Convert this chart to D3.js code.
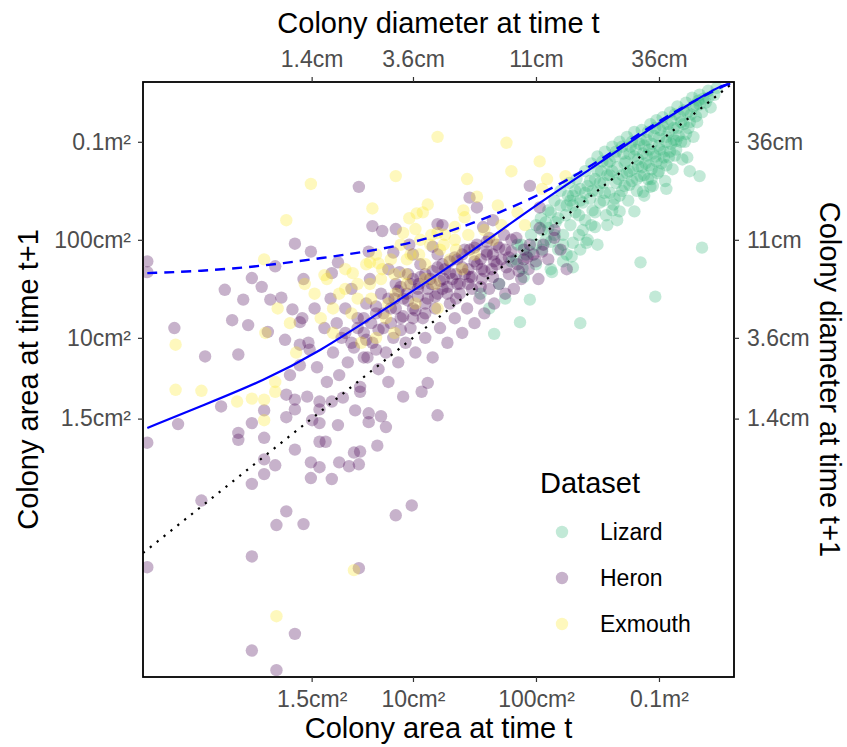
<!DOCTYPE html>
<html>
<head>
<meta charset="utf-8">
<script src="https://cdn.jsdelivr.net/npm/d3@7"></script>
<style>
  body { margin: 0; background: #fff; }
  text { font-family: "Liberation Sans", Arial, sans-serif; }
</style>
</head>
<body>
<script>
// values are log10(area in cm²): [time t, time t+1]
const lizard = [
  [3.35,1.92],[2.85,1.77],[3.23,2.84],[3.33,2.65],[3.06,2.52],[3.14,3.01],[2.93,2.54],[2.87,2.49],
  [2.80,2.29],[2.68,2.29],[2.48,2.13],[2.50,1.95],[2.36,1.90],[2.29,1.83],[2.30,1.72],[2.22,1.78],
  [2.13,1.67],[1.89,1.71],[2.41,1.97],[2.30,1.97],[2.97,1.42],[2.36,1.15],[1.66,1.04],[1.87,1.16],
  [1.95,1.39],[3.33,3.38],[1.55,1.45],[1.70,1.55],[1.75,1.40],[1.62,1.30],
  [2.05,2.10],[2.10,2.30],[2.12,1.98],[2.15,2.40],[2.18,2.22],[2.20,2.50],[2.22,2.05],[2.25,2.35],
  [2.27,2.58],[2.28,2.15],[2.30,2.45],[2.32,2.28],[2.33,2.62],[2.35,2.05],[2.36,2.52],[2.38,2.38],
  [2.40,2.70],[2.40,2.20],[2.42,2.55],[2.44,2.42],[2.45,2.78],[2.46,2.30],[2.48,2.62],[2.50,2.50],
  [2.50,2.85],[2.52,2.38],[2.53,2.70],[2.55,2.58],[2.56,2.90],[2.57,2.25],[2.58,2.78],[2.60,2.48],
  [2.60,2.66],[2.62,2.95],[2.63,2.36],[2.64,2.85],[2.65,2.58],[2.66,2.74],[2.68,3.00],[2.68,2.45],
  [2.70,2.66],[2.71,2.88],[2.72,2.55],[2.73,2.80],[2.74,3.05],[2.75,2.40],[2.76,2.70],[2.77,2.95],
  [2.78,2.60],[2.80,2.85],[2.80,3.10],[2.82,2.50],[2.83,2.75],[2.84,2.98],[2.85,2.65],[2.86,3.12],
  [2.87,2.88],[2.88,2.45],[2.89,2.78],[2.90,3.02],[2.91,2.62],[2.92,2.92],[2.93,3.18],[2.94,2.72],
  [2.95,2.55],[2.96,3.06],[2.97,2.85],[2.98,3.22],[2.99,2.68],[3.00,2.96],[3.01,3.12],[3.02,2.78],
  [3.03,3.25],[3.04,2.90],[3.05,2.60],[3.06,3.05],[3.07,3.18],[3.08,2.84],[3.09,3.30],[3.10,2.98],
  [3.11,2.72],[3.12,3.14],[3.13,3.28],[3.14,2.92],[3.15,3.36],[3.16,3.06],[3.18,3.20],[3.19,2.82],
  [3.20,3.32],[3.21,3.00],[3.22,3.40],[3.24,3.14],[3.25,2.70],[3.26,3.28],[3.27,3.45],[3.28,3.05],
  [3.30,3.38],[3.31,3.20],[3.33,3.48],[3.35,3.30],[3.38,3.40],[3.40,3.52],[3.42,3.35],[3.45,3.48],
  [3.47,3.55],[1.80,1.78],[1.85,1.95],[1.90,1.62],[1.95,1.88],[2.00,2.15],[2.00,1.75],[2.05,1.90],
  [2.08,2.18],[2.12,1.70],[2.15,2.05],[2.18,1.90],[2.22,1.95],[2.25,1.85],[2.28,2.40],[2.35,2.25],
  [2.38,2.10],[2.42,2.00],[2.45,2.15],[2.48,2.28],[2.55,2.40],[2.58,2.15],[2.62,2.30],[2.66,2.20],
  [2.60,2.80],[2.62,2.70],[2.65,2.90],[2.67,2.62],[2.70,2.95],[2.72,2.78],[2.74,2.68],[2.76,2.88],
  [2.78,3.00],[2.79,2.72],[2.81,2.92],[2.83,2.82],[2.85,3.02],[2.86,2.74],[2.88,2.96],[2.90,2.86],
  [2.91,3.10],[2.92,2.76],[2.94,2.98],[2.95,2.88],[2.97,3.14],[2.98,2.80],[3.00,3.04],[3.01,2.92],
  [3.03,3.16],[3.04,2.84],[3.06,3.00],[3.08,3.10],[3.09,2.90],[3.10,3.22],[3.12,3.02],[3.13,2.86],
  [3.15,3.14],[3.17,3.26],[3.18,3.00],[3.20,3.18],[3.22,3.08],[3.23,3.30],[3.25,3.20],[3.28,3.36],
  [3.30,3.26],[3.32,3.42],[3.36,3.44],[3.40,3.45],[2.50,2.70],[2.52,2.58],[2.54,2.80],[2.56,2.48],
  [2.58,2.66],[2.44,2.60],[2.46,2.50],[2.40,2.48],[2.36,2.40],[2.32,2.50],[2.30,2.35],[2.26,2.45],
  [2.24,2.25],[2.20,2.35],[2.16,2.18],[2.12,2.28],[2.10,2.12],[2.08,2.00],[2.04,2.22],[2.00,1.95],
  [1.96,2.05],[1.92,1.85],[1.88,1.95],[1.84,1.80],[2.70,2.50],[2.76,2.56],[2.82,2.62],[2.88,2.66],
  [2.94,2.62],[3.00,2.70],[3.06,2.76],[2.64,2.42]
];

const heron = [
  [-1.16,1.78],[-1.16,1.67],[-1.16,-0.07],[-1.16,-1.34],[-0.91,0.12],[-0.94,1.10],[-0.69,0.81],[-0.72,-0.66],
  [-0.56,0.30],[-0.42,0.83],[-0.42,0.03],[-0.42,-0.04],[-0.31,0.13],[-0.31,-0.49],[-0.31,-1.23],[-0.31,-2.19],
  [-0.31,1.61],[-0.21,0.26],[-0.21,-0.02],[-0.21,-0.24],[-0.21,-0.39],[-0.12,1.73],[-0.12,-0.30],[-0.11,-0.91],
  [-0.11,-2.39],[-0.03,0.42],[-0.03,0.19],[-0.03,-0.77],[0.04,1.96],[0.04,0.37],[0.04,0.27],[0.04,-0.14],
  [0.04,-2.02],[0.11,1.60],[0.11,-0.90],[0.14,0.40],[0.17,1.88],[0.17,-0.27],[0.17,-0.43],[0.18,0.16],
  [0.24,0.27],[0.24,-0.06],[0.24,-0.32],[0.24,0.35],[0.24,0.13],[0.29,-0.06],[0.34,1.66],[0.34,0.35],
  [0.34,-0.44],[0.39,1.77],[0.39,0.11],[0.40,-0.27],[0.43,0.39],[0.48,-0.31],[0.52,-0.17],[0.53,0.26],
  [0.56,2.54],[0.56,-0.29],[0.56,-1.35],[0.57,0.45],[0.57,-0.16],[0.64,1.88],[0.64,0.23],[0.64,0.14],
  [0.67,2.14],[0.71,-0.10],[0.74,0.20],[0.75,2.09],[0.78,0.09],[0.80,0.55],[0.84,1.87],[0.86,2.11],
  [0.86,-0.81],[0.89,1.67],[0.92,0.40],[0.97,1.95],[0.99,-0.71],[1.00,1.85],[1.07,0.45],[1.12,0.54],
  [1.16,1.93],[1.20,2.16],[1.20,0.21],[1.24,2.15],[1.46,2.43],[1.52,2.33],[1.57,2.13],[1.65,2.20],
  [1.95,2.55],[2.03,2.33],[2.03,2.12],[2.15,2.02],[1.93,1.82],
  [-0.38,1.39],[-0.23,1.52],[-0.16,1.39],[-0.07,1.41],[0.02,1.29],[0.08,1.16],[-0.34,1.13],[-0.18,1.06],
  [-0.04,0.98],[0.08,0.93],[-0.47,1.18],[-0.53,1.49],[0.00,0.62],[0.16,0.88],[0.08,0.72],
  [0.10,1.20],[0.15,0.95],[0.20,1.30],[0.22,0.70],[0.28,1.10],[0.30,0.55],[0.33,1.40],[0.35,0.85],
  [0.38,1.15],[0.40,0.62],[0.42,1.00],[0.45,1.30],[0.47,0.75],[0.50,1.50],[0.52,0.90],[0.55,1.20],
  [0.57,0.50],[0.60,1.05],[0.62,1.35],[0.63,0.80],[0.65,1.60],[0.67,0.95],[0.70,1.25],[0.72,0.68],
  [0.74,1.45],[0.76,1.10],[0.78,0.85],[0.80,1.70],[0.82,1.30],[0.84,1.00],[0.86,1.55],[0.88,0.75],
  [0.90,1.20],[0.92,1.40],[0.94,0.95],[0.96,1.65],[0.98,1.10],[1.00,1.30],[1.02,0.85],[1.04,1.50],
  [1.06,1.75],[1.08,1.20],[1.10,1.00],[1.12,1.40],[1.14,1.60],[1.16,0.80],[1.18,1.30],[1.20,1.85],
  [1.22,1.10],[1.24,1.50],[1.26,1.70],[1.28,0.95],[1.30,1.35],[1.32,1.60],[1.34,1.20],[1.36,1.80],
  [1.38,1.45],[1.40,1.05],[1.42,1.65],[1.44,1.30],[1.46,1.90],[1.48,1.50],[1.50,1.15],[1.52,1.75],
  [1.54,1.40],[1.56,1.60],[1.58,1.25],[1.60,1.85],[1.62,1.50],[1.64,1.70],[1.66,1.35],[1.68,1.95],
  [1.70,1.55],[1.72,1.80],[1.75,1.45],[1.78,1.65],[1.80,2.00],[1.82,1.50],[1.85,1.75],[1.88,1.60],
  [1.90,1.90],[1.94,1.70],[1.98,1.85],[2.02,1.60],[2.06,1.95],[2.10,1.80],[2.15,2.10],[2.20,1.90],
  [2.25,1.70],[0.85,1.40],[0.95,1.45],[1.05,1.55],[1.15,1.55],[1.25,1.60],[1.35,1.65],[1.45,1.70],
  [1.55,1.80],[1.65,1.85],[1.75,1.90],[1.10,1.65],[1.20,1.72],[1.30,1.78],[1.40,1.85],[1.50,1.92],
  [1.60,1.98],[1.00,1.60],[0.90,1.52],[1.28,1.45],[1.38,1.55],[1.48,1.62],[1.58,1.68],[1.68,1.75],
  [1.78,1.82],
  [0.45,1.05],[0.50,0.95],[0.55,1.10],[0.60,1.20],[0.62,0.98],[0.66,1.15],[0.70,1.32],[0.72,1.08],
  [0.76,1.25],[0.80,1.40],[0.82,1.15],[0.86,1.30],[0.88,1.48],[0.92,1.22],[0.96,1.38],[0.98,1.55],
  [1.02,1.28],[1.04,1.42],[1.06,1.62],[1.10,1.35],[1.12,1.50],[1.16,1.68],[1.18,1.42],[1.22,1.58],
  [1.24,1.75],[1.28,1.52],[1.30,1.66],[1.34,1.82],[1.36,1.55],[1.40,1.72],[1.42,1.90],[1.46,1.62],
  [1.50,1.78],[1.52,1.95],[1.56,1.70],[1.60,1.88],[1.62,2.02],[1.66,1.78],[1.70,1.92],[1.74,2.05],
  [1.76,1.72],[1.80,1.88],[1.84,2.02],[1.86,1.68],[1.90,1.80],[1.95,1.95],[2.00,1.78],[2.05,1.88],
  [1.20,1.45],[1.35,1.40],[1.45,1.55],[1.55,1.52],[1.65,1.62],[1.00,1.20],[0.90,1.08],[1.10,1.25],
  [0.70,0.88],[0.60,0.80]
];

const exmouth = [
  [-0.93,0.93],[-0.93,0.47],[-0.72,0.46],[-0.43,0.35],[-0.31,0.38],[-0.21,1.80],[-0.21,0.37],[-0.21,0.16],
  [-0.12,0.55],[-0.12,0.45],[-0.11,-1.84],[-0.03,2.20],[0.17,2.57],[0.28,1.64],[0.51,1.66],[0.52,-1.37],
  [0.65,1.77],[0.67,2.32],[0.72,1.76],[0.86,2.65],[0.92,2.07],[0.97,2.22],[1.02,2.11],[1.03,2.27],
  [1.08,2.28],[1.12,2.36],[1.20,2.07],[1.20,3.05],[1.34,2.13],[1.41,2.30],[1.42,2.23],[1.44,2.62],
  [1.52,2.44],[1.69,2.35],[1.76,2.99],[1.80,2.70],[1.85,2.28],[1.91,2.15],[2.03,2.80],[2.05,2.52],
  [2.09,2.62],[2.24,2.65],
  [0.20,1.45],[0.25,1.20],[0.30,1.60],[0.35,1.05],[0.40,1.45],[0.45,1.70],[0.50,1.25],[0.55,1.55],
  [0.58,0.95],[0.62,1.75],[0.66,1.40],[0.70,1.85],[0.74,1.60],[0.78,1.20],[0.82,1.80],[0.86,1.45],
  [0.90,1.95],[0.94,1.65],[0.98,1.85],[1.02,1.35],[1.06,2.00],[1.10,1.75],[1.14,1.95],[1.18,1.55],
  [1.22,1.90],[1.26,2.05],[1.30,1.80],[1.34,2.00],[1.40,1.70],[1.45,2.05],[1.50,1.85],[1.58,2.10],
  [1.65,2.00],[1.72,2.15],[0.00,1.15],[-0.10,1.30],[-0.20,1.05],[0.05,0.85],[0.12,1.55],[0.85,1.05],
  [0.70,1.00],[1.20,1.30],
  [0.55,1.40],[0.65,1.55],[0.75,1.70],[0.85,1.65],[0.95,1.80],[1.05,1.85],[1.15,2.05],[1.25,1.95],
  [1.35,1.90],[0.45,1.50],[0.35,1.30],[0.95,1.55],[1.10,1.60],[0.80,1.35]
];

// fitted curves, same units
const solidFit = [
  [-1.16,0.08],[-0.69,0.32],[-0.22,0.56],[0.24,0.86],[0.73,1.26],[1.22,1.66],[1.63,2.02],
  [2.03,2.38],[2.44,2.72],[2.85,3.07],[3.25,3.39],[3.51,3.58],[3.58,3.59]
];
const dashedFit = [
  [-1.16,1.66],[-0.73,1.68],[-0.24,1.73],[0.24,1.81],[0.73,1.90],[1.06,1.99],[1.38,2.12],
  [1.71,2.28],[2.03,2.46],[2.36,2.68],[2.68,2.95],[3.01,3.22],[3.33,3.45],[3.58,3.60]
];

const areaTicks = [1.5, 10, 100, 1000]; // cm²
const areaTickLabels = ["1.5cm²", "10cm²", "100cm²", "0.1m²"];
const diameterTickLabels = ["1.4cm", "3.6cm", "11cm", "36cm"];

const datasets = ["Lizard", "Heron", "Exmouth"];
const datasetColors = ["#35b779", "#440154", "#fde725"];

var width = 847, height = 747;
var panelLeft = 143, panelRight = 734, panelTop = 82, panelBottom = 677;

var svg = d3.select("body").append("svg")
  .attr("width", width)
  .attr("height", height);

var x = d3.scaleLinear().domain([-1.195, 3.61]).range([panelLeft, panelRight]);
var y = d3.scaleLinear().domain([-2.46, 3.61]).range([panelBottom, panelTop]);

svg.append("clipPath").attr("id", "panel")
  .append("rect")
  .attr("x", panelLeft).attr("y", panelTop)
  .attr("width", panelRight - panelLeft).attr("height", panelBottom - panelTop);

var plot = svg.append("g").attr("clip-path", "url(#panel)");

// points
var series = [lizard, heron, exmouth];
series.forEach(function(pts, i) {
  plot.append("g")
    .selectAll("circle")
    .data(pts)
    .enter().append("circle")
    .attr("cx", d => x(d[0]))
    .attr("cy", d => y(d[1]))
    .attr("r", 6.2)
    .attr("fill", datasetColors[i])
    .attr("fill-opacity", 0.3);
});

var line = d3.line().x(d => x(d[0])).y(d => y(d[1])).curve(d3.curveBasis);

// 1:1 line
plot.append("path")
  .datum(x.domain().map(v => [v, v]))
  .attr("d", d3.line().x(d => x(d[0])).y(d => y(d[1])))
  .attr("fill", "none")
  .attr("stroke", "#000")
  .attr("stroke-width", 2.2)
  .attr("stroke-dasharray", "2.2,6.6");

plot.append("path")
  .datum(dashedFit)
  .attr("d", line)
  .attr("fill", "none")
  .attr("stroke", "#0000ff")
  .attr("stroke-width", 2.4)
  .attr("stroke-dasharray", "10,7");

plot.append("path")
  .datum(solidFit)
  .attr("d", line)
  .attr("fill", "none")
  .attr("stroke", "#0000ff")
  .attr("stroke-width", 2.2);

// border
svg.append("rect")
  .attr("x", panelLeft).attr("y", panelTop)
  .attr("width", panelRight - panelLeft).attr("height", panelBottom - panelTop)
  .attr("fill", "none")
  .attr("stroke", "#000")
  .attr("stroke-width", 1.8);

// axes
var tickPos = areaTicks.map(Math.log10);
function styleAxis(g) {
  g.select(".domain").remove();
  g.selectAll(".tick line").attr("stroke", "#333").attr("stroke-width", 1.2);
  g.selectAll(".tick text").attr("fill", "#4d4d4d").style("font-size", "23px")
    .style("font-family", "'Liberation Sans', Arial, sans-serif");
}

svg.append("g")
  .attr("transform", "translate(0," + panelBottom + ")")
  .call(d3.axisBottom(x).tickValues(tickPos).tickSize(5).tickPadding(9)
    .tickFormat((d, i) => areaTickLabels[i]))
  .call(styleAxis);

svg.append("g")
  .attr("transform", "translate(0," + panelTop + ")")
  .call(d3.axisTop(x).tickValues(tickPos).tickSize(5).tickPadding(10)
    .tickFormat((d, i) => diameterTickLabels[i]))
  .call(styleAxis);

svg.append("g")
  .attr("transform", "translate(" + panelLeft + ",0)")
  .call(d3.axisLeft(y).tickValues(tickPos).tickSize(5).tickPadding(7)
    .tickFormat((d, i) => areaTickLabels[i]))
  .call(styleAxis);

svg.append("g")
  .attr("transform", "translate(" + panelRight + ",0)")
  .call(d3.axisRight(y).tickValues(tickPos).tickSize(5).tickPadding(8)
    .tickFormat((d, i) => diameterTickLabels[i]))
  .call(styleAxis);

// axis titles
var cx = (panelLeft + panelRight) / 2, cy = (panelTop + panelBottom) / 2;
svg.append("text").attr("x", cx).attr("y", 738)
  .attr("text-anchor", "middle").style("font-size", "29px")
  .text("Colony area at time t");
svg.append("text").attr("x", cx).attr("y", 33)
  .attr("text-anchor", "middle").style("font-size", "29px")
  .text("Colony diameter at time t");
svg.append("text")
  .attr("transform", "translate(38," + cy + ") rotate(-90)")
  .attr("text-anchor", "middle").style("font-size", "29px")
  .text("Colony area at time t+1");
svg.append("text")
  .attr("transform", "translate(820," + cy + ") rotate(90)")
  .attr("text-anchor", "middle").style("font-size", "29px")
  .text("Colony diameter at time t+1");

// legend
var legend = svg.append("g");
legend.append("text").attr("x", 540).attr("y", 493)
  .style("font-size", "29px").text("Dataset");
datasets.forEach(function(name, i) {
  var ly = 532 + i * 46;
  legend.append("circle")
    .attr("cx", 562).attr("cy", ly).attr("r", 6.2)
    .attr("fill", datasetColors[i]).attr("fill-opacity", 0.3);
  legend.append("text")
    .attr("x", 600).attr("y", ly + 8)
    .style("font-size", "23px").text(name);
});
</script>
</body>
</html>
